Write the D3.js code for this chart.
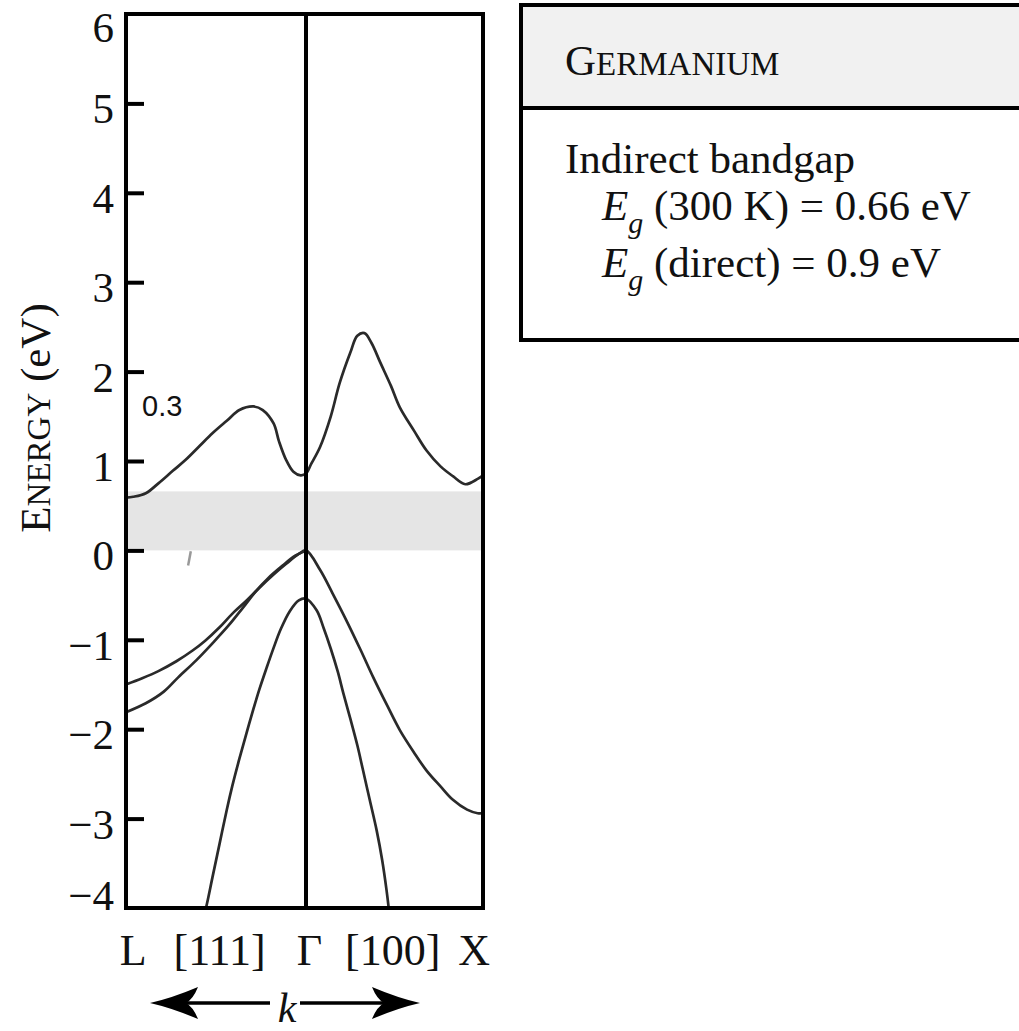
<!DOCTYPE html>
<html>
<head>
<meta charset="utf-8">
<script src="https://cdn.jsdelivr.net/npm/d3@7"></script>
<style>
  body { margin: 0; background: #fff; }
  svg { display: block; }
  text { font-family: "Liberation Serif", "Times New Roman", serif; fill: #111; }
</style>
</head>
<body>
<svg id="chart" width="1019" height="1031"></svg>
<script>
// Germanium band structure along L – Γ – X (k: L = -1, Γ = 0, X = 1)

const kLabels = ["L", "[111]", "Γ", "[100]", "X"];
const kLabelPos = [-0.96, -0.48, 0.02, 0.49, 0.95];
const energyTicks = [6, 5, 4, 3, 2, 1, 0, -1, -2, -3, -4];
const energyTickLabels = ["6", "5", "4", "3", "2", "1", "0", "−1", "−2", "−3", "−4"];

const bandgapIndirect = 0.66;   // eV, 300 K
const bandgapDirect = 0.9;      // eV

// lowest conduction band
const conductionK = [-1, -0.96, -0.89, -0.82, -0.74, -0.67, -0.59, -0.52, -0.44, -0.37, -0.29, -0.24,
  -0.18, -0.15, -0.11, -0.07, -0.03, 0, 0.03, 0.08, 0.14, 0.19, 0.25, 0.29, 0.33, 0.37, 0.42, 0.48,
  0.53, 0.61, 0.68, 0.76, 0.83, 0.9, 0.97, 1];
const conductionE = [0.59, 0.6, 0.64, 0.75, 0.89, 1.01, 1.17, 1.31, 1.45, 1.57, 1.61, 1.57,
  1.42, 1.22, 1.01, 0.88, 0.84, 0.86, 0.97, 1.16, 1.5, 1.87, 2.21, 2.4, 2.43, 2.32, 2.1, 1.84,
  1.6, 1.34, 1.12, 0.94, 0.83, 0.74, 0.8, 0.84];

// heavy-hole valence band
const heavyHoleK = [-1, -0.91, -0.82, -0.72, -0.63, -0.56, -0.48, -0.41, -0.33, -0.26, -0.18, -0.11,
  -0.04, 0, 0.08, 0.15, 0.23, 0.31, 0.38, 0.46, 0.53, 0.61, 0.68, 0.76, 0.83, 0.91, 0.97, 1];
const heavyHoleE = [-1.5, -1.43, -1.35, -1.24, -1.12, -1.01, -0.86, -0.71, -0.56, -0.42, -0.27, -0.15,
  -0.04, 0, -0.22, -0.48, -0.79, -1.12, -1.42, -1.74, -2.01, -2.26, -2.46, -2.64, -2.79, -2.9, -2.94, -2.94];

// light-hole valence band (L side)
const lightHoleK = [-1, -0.89, -0.79, -0.71, -0.61, -0.52, -0.43, -0.35, -0.28, -0.21, -0.13, -0.06, 0];
const lightHoleE = [-1.81, -1.71, -1.58, -1.42, -1.23, -1.04, -0.84, -0.64, -0.46, -0.31, -0.17, -0.06, 0];

// split-off valence band
const splitOffK = [-0.58, -0.55, -0.52, -0.48, -0.44, -0.41, -0.37, -0.33, -0.29, -0.26, -0.22, -0.18,
  -0.14, -0.09, -0.04, 0, 0.06, 0.1, 0.14, 0.18, 0.21, 0.25, 0.29, 0.32, 0.36, 0.4, 0.43, 0.455, 0.47, 0.48];
const splitOffE = [-4.2, -3.95, -3.66, -3.28, -2.9, -2.64, -2.33, -2.04, -1.76, -1.56, -1.32, -1.09,
  -0.88, -0.68, -0.56, -0.54, -0.67, -0.87, -1.1, -1.36, -1.59, -1.88, -2.18, -2.44, -2.79, -3.14, -3.46, -3.8, -4.05, -4.25];

const bands = [
  { k: conductionK, e: conductionE },
  { k: heavyHoleK, e: heavyHoleE },
  { k: lightHoleK, e: lightHoleE },
  { k: splitOffK, e: splitOffE }
];

const svg = d3.select("#chart");

const x = d3.scaleLinear().domain([-1, 0, 1]).range([126, 306, 483]);
const y = d3.scaleLinear().domain([-4, 6]).range([908, 14]);

svg.append("defs").append("clipPath").attr("id", "plot-clip")
  .append("rect")
  .attr("x", x(-1)).attr("y", y(6))
  .attr("width", x(1) - x(-1)).attr("height", y(-4) - y(6));

const plot = svg.append("g").attr("clip-path", "url(#plot-clip)");

// forbidden gap
plot.append("rect")
  .attr("x", x(-1)).attr("width", x(1) - x(-1))
  .attr("y", y(bandgapIndirect)).attr("height", y(0) - y(bandgapIndirect))
  .attr("fill", "#e5e5e5");

// small stray mark inside the gap
plot.append("line")
  .attr("x1", x(-0.64)).attr("y1", y(-0.01))
  .attr("x2", x(-0.655)).attr("y2", y(-0.17))
  .attr("stroke", "#999").attr("stroke-width", 2.5);

const line = d3.line()
  .x(d => x(d[0]))
  .y(d => y(d[1]))
  .curve(d3.curveCatmullRom.alpha(0.5));

plot.selectAll("path.band")
  .data(bands)
  .join("path")
  .attr("class", "band")
  .attr("d", b => line(d3.zip(b.k, b.e)))
  .attr("fill", "none")
  .attr("stroke", "#2a2a2a")
  .attr("stroke-width", 2.7)
  .attr("stroke-linejoin", "round");

// frame and Γ line
const frame = svg.append("g").attr("stroke", "#000").attr("stroke-width", 4).attr("fill", "none");
frame.append("rect")
  .attr("x", x(-1)).attr("y", y(6))
  .attr("width", x(1) - x(-1)).attr("height", y(-4) - y(6));
frame.append("line")
  .attr("x1", x(0)).attr("x2", x(0))
  .attr("y1", y(6)).attr("y2", y(-4));

// inward ticks on the energy axis
const yAxis = d3.axisRight(y)
  .tickValues(energyTicks.slice(1, -1))
  .tickSize(18)
  .tickFormat("");
const axisG = svg.append("g").attr("transform", `translate(${x(-1)},0)`).call(yAxis);
axisG.select(".domain").remove();
axisG.selectAll(".tick line").attr("stroke", "#000").attr("stroke-width", 4);

// energy tick labels
svg.append("g").selectAll("text")
  .data(energyTicks)
  .join("text")
  .attr("x", 114)
  .attr("y", d => Math.max(27, Math.min(895, y(d) + 5)))
  .attr("dy", "0.35em")
  .attr("text-anchor", "end")
  .attr("font-size", 43)
  .text((d, i) => energyTickLabels[i]);

// axis title in small caps
const yTitle = svg.append("text")
  .attr("transform", "translate(50,418) rotate(-90)")
  .attr("text-anchor", "middle")
  .attr("font-size", 43);
yTitle.append("tspan").text("E");
yTitle.append("tspan").attr("font-size", 33).text("NERGY");
yTitle.append("tspan").text(" (eV)");

// k-path labels
svg.append("g").selectAll("text")
  .data(kLabels)
  .join("text")
  .attr("x", (d, i) => x(kLabelPos[i]))
  .attr("y", 965)
  .attr("text-anchor", "middle")
  .attr("font-size", 44)
  .text(d => d);

// band annotation
svg.append("text")
  .attr("x", 142).attr("y", 416)
  .attr("font-size", 29)
  .style("font-family", "'Liberation Sans', Arial, sans-serif")
  .attr("fill", "#333")
  .text("0.3");

// k direction arrows
const arrows = svg.append("g");
function arrowHead(tipX, dir) {
  const len = 48, half = 16, notch = 12;
  const bx = tipX + dir * len;
  return `M${tipX},1003 Q${tipX + dir * 22},${1003 - 5} ${bx},${1003 - half}` +
         ` Q${bx - dir * notch * 0.4},${1003 - 4} ${tipX + dir * (len - notch)},1003` +
         ` Q${bx - dir * notch * 0.4},${1003 + 4} ${bx},${1003 + half}` +
         ` Q${tipX + dir * 22},${1003 + 5} ${tipX},1003Z`;
}
arrows.append("line").attr("x1", 175).attr("x2", 270).attr("y1", 1003).attr("y2", 1003)
  .attr("stroke", "#000").attr("stroke-width", 3.5);
arrows.append("line").attr("x1", 300).attr("x2", 395).attr("y1", 1003).attr("y2", 1003)
  .attr("stroke", "#000").attr("stroke-width", 3.5);
arrows.append("path").attr("d", arrowHead(150, 1)).attr("fill", "#000");
arrows.append("path").attr("d", arrowHead(420, -1)).attr("fill", "#000");
svg.append("text")
  .attr("x", 287).attr("y", 1022)
  .attr("text-anchor", "middle")
  .attr("font-size", 42)
  .attr("font-style", "italic")
  .text("k");

// properties panel
const panel = svg.append("g");
panel.append("rect")
  .attr("x", 521).attr("y", 5).attr("width", 600).attr("height", 335)
  .attr("fill", "#fff").attr("stroke", "#000").attr("stroke-width", 4);
panel.append("rect")
  .attr("x", 521).attr("y", 5).attr("width", 600).attr("height", 103)
  .attr("fill", "#f1f1f1").attr("stroke", "#000").attr("stroke-width", 4);

const title = panel.append("text").attr("x", 565).attr("y", 75).attr("font-size", 43);
title.append("tspan").text("G");
title.append("tspan").attr("font-size", 33).text("ERMANIUM");

panel.append("text").attr("x", 565).attr("y", 173).attr("font-size", 43).text("Indirect bandgap");

function gapLine(yPos, label, value) {
  const t = panel.append("text").attr("x", 602).attr("y", yPos).attr("font-size", 43);
  t.append("tspan").attr("font-style", "italic").text("E");
  t.append("tspan").attr("font-style", "italic").attr("font-size", 30).attr("dy", 13).text("g");
  t.append("tspan").attr("dy", -13).text(` (${label}) = ${value} eV`);
}
gapLine(220, "300 K", bandgapIndirect);
gapLine(277, "direct", bandgapDirect);
</script>
</body>
</html>
